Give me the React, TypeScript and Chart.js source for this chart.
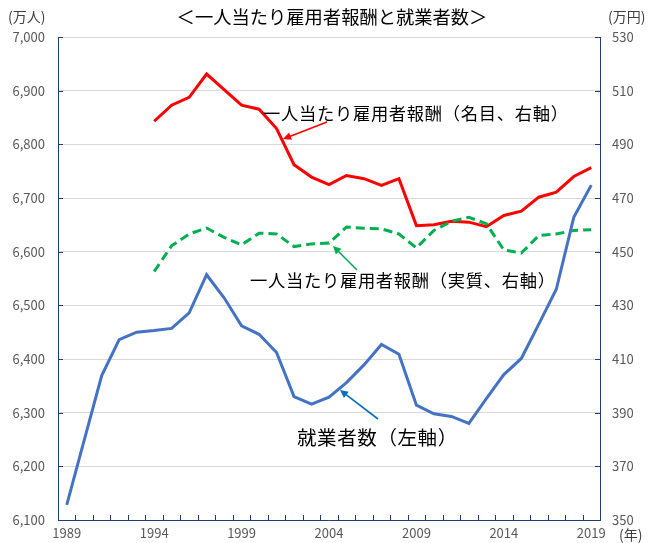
import React, { useEffect, useRef } from "react";
import { Chart, registerables } from "chart.js";

Chart.register(...registerables);

const years: string[] = [];
for (let y = 1989; y <= 2019; y++) years.push(String(y));

// 就業者数（万人, 左軸）
const employed = [
  6128, 6249, 6369, 6436, 6450, 6453, 6457, 6486, 6557, 6514,
  6462, 6446, 6412, 6330, 6316, 6329, 6356, 6389, 6427, 6409,
  6314, 6298, 6293, 6280, 6326, 6371, 6401, 6465, 6530, 6664, 6724,
];

// 一人当たり雇用者報酬（名目, 万円, 右軸）
const nominalComp: (number | null)[] = [
  null, null, null, null, null,
  498.6, 504.6, 507.5, 516.2, 510.4,
  504.6, 503.1, 495.9, 482.4, 477.8,
  475.0, 478.4, 477.2, 474.7, 477.2,
  459.7, 460.0, 461.3, 461.0, 459.3,
  463.5, 465.1, 470.3, 472.2, 478.0, 481.3,
];

// 一人当たり雇用者報酬（実質, 万円, 右軸）
const realComp: (number | null)[] = [
  null, null, null, null, null,
  442.6, 452.2, 456.6, 458.8, 455.3,
  452.5, 456.9, 456.6, 451.9, 452.9,
  453.2, 459.2, 458.7, 458.5, 456.6,
  451.4, 457.9, 461.3, 462.8, 460.4,
  450.6, 449.5, 456.0, 456.6, 457.9, 458.2,
];

const leftTicks = [6100, 6200, 6300, 6400, 6500, 6600, 6700, 6800, 6900, 7000];
const rightTicks = [350, 370, 390, 410, 430, 450, 470, 490, 510, 530];

const titleText = "＜一人当たり雇用者報酬と就業者数＞";
const leftUnit = "(万人)";
const rightUnit = "(万円)";
const xUnit = "(年)";
const labelNominal = "一人当たり雇用者報酬（名目、右軸）";
const labelReal = "一人当たり雇用者報酬（実質、右軸）";
const labelEmployed = "就業者数（左軸）";

const AXIS_COLOR = "#1F3B7A";
const TICK_COLOR = "#595959";
const CJK = '"Noto Sans CJK JP", "Noto Sans", sans-serif';

function arrow(ctx: CanvasRenderingContext2D, x1: number, y1: number, x2: number, y2: number, color: string) {
  const ang = Math.atan2(y2 - y1, x2 - x1);
  const len = 8;
  const w = 4;
  ctx.save();
  ctx.strokeStyle = color;
  ctx.fillStyle = color;
  ctx.lineWidth = 1.6;
  ctx.beginPath();
  ctx.moveTo(x1, y1);
  ctx.lineTo(x2 - Math.cos(ang) * len * 0.8, y2 - Math.sin(ang) * len * 0.8);
  ctx.stroke();
  ctx.beginPath();
  ctx.moveTo(x2, y2);
  ctx.lineTo(x2 - Math.cos(ang) * len - Math.sin(ang) * w, y2 - Math.sin(ang) * len + Math.cos(ang) * w);
  ctx.lineTo(x2 - Math.cos(ang) * len + Math.sin(ang) * w, y2 - Math.sin(ang) * len - Math.cos(ang) * w);
  ctx.closePath();
  ctx.fill();
  ctx.restore();
}

const decorPlugin = {
  id: "decor",
  afterDatasetsDraw(chart: any) {
    const ctx: any = chart.ctx;
    const area = chart.chartArea;
    const xs = chart.scales.x;
    const yl = chart.scales.y;
    const yr = chart.scales.y1;
    ctx.save();
    // inward tick marks
    ctx.strokeStyle = AXIS_COLOR;
    ctx.lineWidth = 1;
    leftTicks.forEach((v) => {
      const py = Math.round(yl.getPixelForValue(v)) + 0.5;
      ctx.beginPath();
      ctx.moveTo(area.left, py);
      ctx.lineTo(area.left + 5, py);
      ctx.stroke();
    });
    rightTicks.forEach((v) => {
      const py = Math.round(yr.getPixelForValue(v)) + 0.5;
      ctx.beginPath();
      ctx.moveTo(area.right, py);
      ctx.lineTo(area.right - 5, py);
      ctx.stroke();
    });
    const step = xs.getPixelForValue(1) - xs.getPixelForValue(0);
    for (let i = 0; i <= years.length; i++) {
      const px = Math.round(xs.getPixelForValue(i) - step / 2) + 0.5;
      ctx.beginPath();
      ctx.moveTo(px, area.bottom);
      ctx.lineTo(px, area.bottom - 5);
      ctx.stroke();
    }
    // annotations
    ctx.fillStyle = "#000000";
    ctx.textBaseline = "middle";
    ctx.textAlign = "left";
    ctx.font = `17.3px ${CJK}`;
    ctx.letterSpacing = "0.7px";
    ctx.fillText(labelNominal, 263, 113);
    ctx.fillText(labelReal, 250, 280);
    ctx.font = `19.5px ${CJK}`;
    ctx.letterSpacing = "0.6px";
    ctx.fillText(labelEmployed, 297, 438);
    ctx.letterSpacing = "0px";
    arrow(ctx, 327, 122, 283, 139, "#FF0000");
    arrow(ctx, 357, 270, 333, 246, "#00B050");
    arrow(ctx, 378, 419, 340, 390, "#0070C0");
    // title & units
    ctx.textAlign = "center";
    ctx.font = `18.3px ${CJK}`;
    ctx.fillText(titleText, 332, 17);
    ctx.font = `14px ${CJK}`;
    ctx.fillStyle = "#404040";
    ctx.textAlign = "left";
    ctx.fillText(leftUnit, 8, 17);
    ctx.fillText(rightUnit, 608, 17);
    ctx.fillText(xUnit, 619, 535);
    ctx.restore();
  },
};

export default function App() {
  const ref = useRef<HTMLCanvasElement | null>(null);
  useEffect(() => {
    if (!ref.current) return;
    const chart = new Chart(ref.current, {
      type: "line",
      data: {
        labels: years,
        datasets: [
          {
            label: labelEmployed,
            data: employed,
            yAxisID: "y",
            borderColor: "#4472C4",
            borderWidth: 3,
            pointRadius: 0,
            tension: 0,
          },
          {
            label: labelReal,
            data: realComp,
            yAxisID: "y1",
            borderColor: "#00B050",
            borderWidth: 3,
            borderDash: [9, 5],
            pointRadius: 0,
            tension: 0,
            spanGaps: false,
          },
          {
            label: labelNominal,
            data: nominalComp,
            yAxisID: "y1",
            borderColor: "#FF0000",
            borderWidth: 3,
            pointRadius: 0,
            tension: 0,
            spanGaps: false,
          },
        ],
      },
      options: {
        animation: false,
        responsive: false,
        maintainAspectRatio: false,
        layout: { padding: { top: 37, left: 0, right: 0, bottom: 0 } },
        plugins: {
          legend: { display: false },
          tooltip: { enabled: false },
          title: { display: false },
        },
        scales: {
          x: {
            type: "category",
            offset: true,
            grid: { display: false, drawTicks: false },
            border: { display: true, color: AXIS_COLOR, width: 1 },
            ticks: {
              autoSkip: false,
              maxRotation: 0,
              minRotation: 0,
              padding: 5,
              color: TICK_COLOR,
              font: { size: 13, family: CJK },
              callback: (_v: any, i: number) => (i % 5 === 0 ? years[i] : ""),
            },
            afterFit: (s: any) => {
              s.height = 23;
            },
          },
          y: {
            position: "left",
            min: 6100,
            max: 7000,
            grid: { color: "#D9D9D9", lineWidth: 1, drawTicks: false },
            border: { display: true, color: AXIS_COLOR, width: 1 },
            afterBuildTicks: (s: any) => {
              s.ticks = leftTicks.map((v) => ({ value: v }));
            },
            ticks: {
              padding: 13,
              color: TICK_COLOR,
              font: { size: 13, family: CJK },
              callback: (v: any) => Number(v).toLocaleString("en-US"),
            },
            afterFit: (s: any) => {
              s.width = 58;
            },
          },
          y1: {
            position: "right",
            min: 350,
            max: 530,
            grid: { display: false, drawTicks: false },
            border: { display: true, color: AXIS_COLOR, width: 1 },
            afterBuildTicks: (s: any) => {
              s.ticks = rightTicks.map((v) => ({ value: v }));
            },
            ticks: {
              padding: 12,
              color: TICK_COLOR,
              font: { size: 13, family: CJK },
              callback: (v: any) => String(v),
            },
            afterFit: (s: any) => {
              s.width = 58;
            },
          },
        },
      },
      plugins: [decorPlugin],
    });
    return () => chart.destroy();
  }, []);
  return (
    <div style={{ position: "absolute", left: 0, top: 0, width: 658, height: 543, background: "#fff" }}>
      <canvas ref={ref} width={658} height={543} style={{ display: "block", width: 658, height: 543 }} />
    </div>
  );
}
